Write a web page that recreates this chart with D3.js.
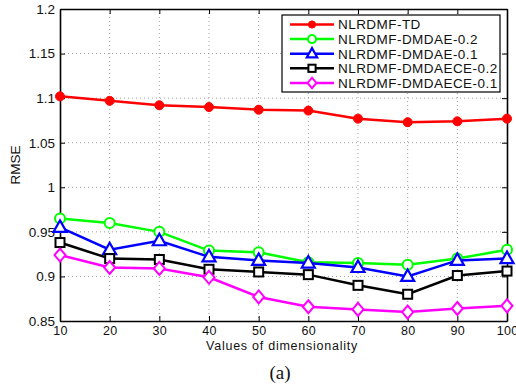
<!DOCTYPE html>
<html>
<head>
<meta charset="utf-8">
<script src="https://cdn.jsdelivr.net/npm/d3@7"></script>
<style>
  body { margin: 0; background: #fff; }
  svg { display: block; font-family: "Liberation Sans", Arial, sans-serif; }
</style>
</head>
<body>
<div id="chart"></div>
<script>
const dims = [10, 20, 30, 40, 50, 60, 70, 80, 90, 100];
const yTicks = [0.85, 0.9, 0.95, 1, 1.05, 1.1, 1.15, 1.2];

const seriesNames = ["NLRDMF-TD", "NLRDMF-DMDAE-0.2", "NLRDMF-DMDAE-0.1", "NLRDMF-DMDAECE-0.2", "NLRDMF-DMDAECE-0.1"];
const tdValues      = [1.102, 1.097, 1.092, 1.090, 1.087, 1.086, 1.077, 1.073, 1.074, 1.077];
const dmdae02Values = [0.965, 0.960, 0.950, 0.929, 0.927, 0.916, 0.915, 0.913, 0.920, 0.930];
const dmdae01Values = [0.955, 0.930, 0.940, 0.922, 0.918, 0.915, 0.910, 0.900, 0.918, 0.920];
const dmdaece02Values = [0.938, 0.920, 0.919, 0.908, 0.905, 0.902, 0.890, 0.880, 0.901, 0.906];
const dmdaece01Values = [0.924, 0.910, 0.909, 0.899, 0.877, 0.866, 0.863, 0.860, 0.864, 0.867];

const width = 516, height = 387;
const margin = {top: 9, right: 9, bottom: 66, left: 60};
const w = width - margin.left - margin.right;
const h = height - margin.top - margin.bottom;

const svg = d3.select("#chart").append("svg")
    .attr("width", width)
    .attr("height", height);

const g = svg.append("g")
    .attr("transform", "translate(" + margin.left + "," + margin.top + ")");

const x = d3.scaleLinear().domain([10, 100]).range([0, w]);
const y = d3.scaleLinear().domain([0.85, 1.2]).range([h, 0]);

// dotted grid
g.selectAll(".vgrid").data(dims.slice(1, -1)).enter().append("line")
    .attr("x1", d => x(d)).attr("x2", d => x(d))
    .attr("y1", 0).attr("y2", h)
    .attr("stroke", "#888").attr("stroke-width", 0.8)
    .attr("stroke-dasharray", "1,3");
g.selectAll(".hgrid").data(yTicks.slice(1, -1)).enter().append("line")
    .attr("y1", d => y(d)).attr("y2", d => y(d))
    .attr("x1", 0).attr("x2", w)
    .attr("stroke", "#888").attr("stroke-width", 0.8)
    .attr("stroke-dasharray", "1,3");

// axes
const fmt = d => String(+d.toFixed(2));
const xAxis = g.append("g").attr("transform", "translate(0," + h + ")")
    .call(d3.axisBottom(x).tickValues(dims).tickSizeInner(-5).tickSizeOuter(0).tickPadding(5));
const xTop = g.append("g")
    .call(d3.axisTop(x).tickValues(dims).tickSizeInner(-5).tickSizeOuter(0).tickFormat(""));
const yAxis = g.append("g")
    .call(d3.axisLeft(y).tickValues(yTicks).tickFormat(fmt).tickSizeInner(-5).tickSizeOuter(0).tickPadding(5));
const yRight = g.append("g").attr("transform", "translate(" + w + ",0)")
    .call(d3.axisRight(y).tickValues(yTicks).tickSizeInner(-5).tickSizeOuter(0).tickFormat(""));

[xAxis, xTop, yAxis, yRight].forEach(a => {
    a.select(".domain").attr("stroke", "#000").attr("stroke-width", 1.6);
    a.selectAll(".tick line").attr("stroke", "#000").attr("stroke-width", 1);
    a.selectAll("text").attr("font-size", 13.5).attr("fill", "#111")
        .attr("font-family", "Liberation Sans, Arial, sans-serif");
});
xAxis.selectAll("text").attr("font-size", 12.5).attr("letter-spacing", 0.3);

// series
const series = [
    {name: seriesNames[0], values: tdValues, color: "#ff0000", marker: "dot"},
    {name: seriesNames[1], values: dmdae02Values, color: "#00ff00", marker: "circle"},
    {name: seriesNames[2], values: dmdae01Values, color: "#0000ff", marker: "triangle"},
    {name: seriesNames[3], values: dmdaece02Values, color: "#000000", marker: "square"},
    {name: seriesNames[4], values: dmdaece01Values, color: "#ff00ff", marker: "diamond"}
];

function drawMarker(sel, type, color, k) {
    k = k || 1;
    if (type === "dot") {
        sel.append("circle").attr("r", 4.5 * k).attr("fill", color).attr("stroke", color);
    } else if (type === "circle") {
        sel.append("circle").attr("r", 5 * k).attr("fill", "#fff").attr("stroke", color).attr("stroke-width", 2);
    } else if (type === "triangle") {
        sel.append("path").attr("d", "M0,-7L6.5,4.5L-6.5,4.5Z").attr("transform", "scale(" + k + ")")
            .attr("fill", "#fff").attr("stroke", color).attr("stroke-width", 2.2 / k);
    } else if (type === "square") {
        sel.append("rect").attr("x", -4.5 * k).attr("y", -4.5 * k).attr("width", 9 * k).attr("height", 9 * k)
            .attr("fill", "#fff").attr("stroke", color).attr("stroke-width", 2);
    } else if (type === "diamond") {
        sel.append("path").attr("d", "M0,-6.5L5.5,0L0,6.5L-5.5,0Z").attr("transform", "scale(" + k + ")")
            .attr("fill", "#fff").attr("stroke", color).attr("stroke-width", 2 / k);
    }
}

const line = d3.line().x((d, i) => x(dims[i])).y(d => y(d));

series.forEach(s => {
    g.append("path").datum(s.values)
        .attr("d", line)
        .attr("fill", "none")
        .attr("stroke", s.color)
        .attr("stroke-width", 2.5);
    s.values.forEach((v, i) => {
        const m = g.append("g").attr("transform", "translate(" + x(dims[i]) + "," + y(v) + ")");
        drawMarker(m, s.marker, s.color);
    });
});

// legend
const lg = svg.append("g").attr("transform", "translate(282,15)");
lg.append("rect").attr("width", 218).attr("height", 77)
    .attr("fill", "#fff").attr("stroke", "#000").attr("stroke-width", 1.2);
series.forEach((s, i) => {
    const row = lg.append("g").attr("transform", "translate(0," + (9.5 + i * 14.6) + ")");
    row.append("line").attr("x1", 8).attr("x2", 52).attr("y1", 0).attr("y2", 0)
        .attr("stroke", s.color).attr("stroke-width", 2.5);
    drawMarker(row.append("g").attr("transform", "translate(30,0)"), s.marker, s.color, 0.8);
    row.append("text").attr("x", 56).attr("y", 0).attr("dy", "0.36em")
        .attr("font-size", 13.5).attr("letter-spacing", 0.45).attr("fill", "#111").text(s.name);
});

// titles
svg.append("text")
    .attr("x", 282).attr("y", 350)
    .attr("text-anchor", "middle").attr("font-size", 12.5).attr("letter-spacing", 0.75).attr("fill", "#111")
    .text("Values of dimensionality");
svg.append("text")
    .attr("transform", "translate(20," + (margin.top + h / 2) + ") rotate(-90)")
    .attr("text-anchor", "middle").attr("font-size", 13.5).attr("fill", "#111")
    .text("RMSE");
svg.append("text")
    .attr("x", 280).attr("y", 379)
    .attr("text-anchor", "middle").attr("font-size", 19)
    .attr("font-family", "Liberation Serif, serif").attr("fill", "#111")
    .text("(a)");
</script>
</body>
</html>
